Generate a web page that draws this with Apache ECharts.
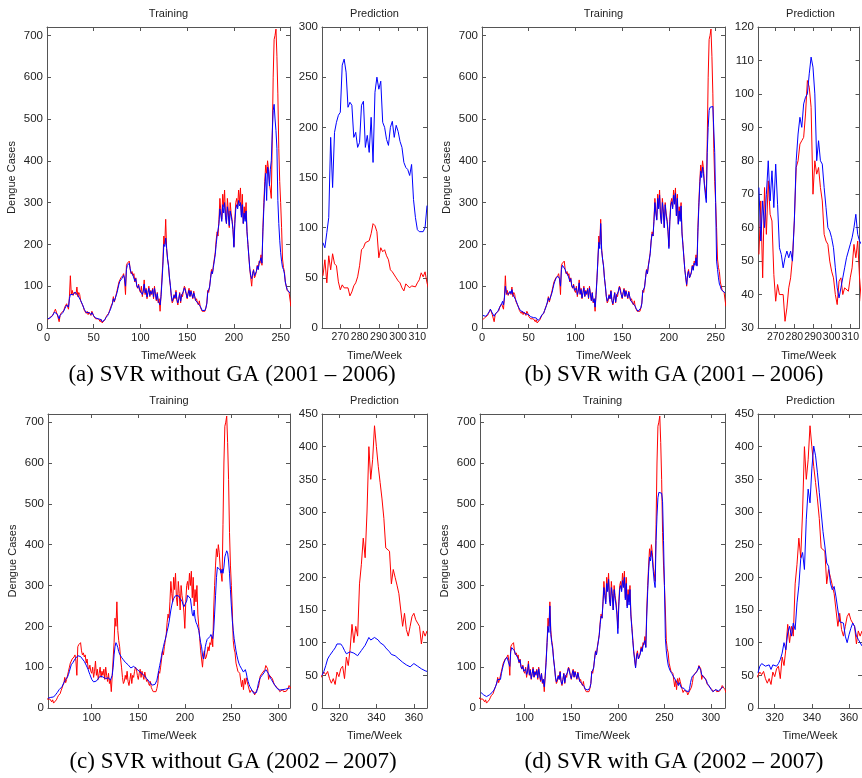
<!DOCTYPE html>
<html>
<head>
    <meta charset="utf-8">
    <title>Dengue SVR</title>
    <style>
        html, body { margin: 0; padding: 0; background: #fff; }
    </style>
</head>
<body>
    <div id="main" style="width: 862px;height:778px;"></div>
    <script src="https://cdn.jsdelivr.net/npm/echarts@6/dist/echarts.min.js"></script>
    <script type="text/javascript">
        // actual weekly dengue cases, week 1 .. 367 (red)
        var actualStart = 1;
        var actual = [
            20, 18, 25, 22, 28, 30, 35, 40, 45, 38,
            32, 28, 15, 30, 35, 33, 38, 42, 50, 48,
            58, 62, 45, 75, 125, 80, 90, 78, 85, 88,
            80, 98, 75, 85, 80, 65, 60, 55, 50, 42,
            38, 35, 40, 32, 38, 35, 30, 40, 35, 28,
            25, 22, 20, 18, 22, 18, 15, 20, 12, 10,
            15, 20, 25, 30, 28, 35, 42, 45, 55, 60,
            75, 62, 70, 68, 90, 100, 110, 115, 120, 118,
            125, 130, 115, 80, 150, 155, 158, 160, 140, 130,
            135, 125, 130, 110, 120, 100, 95, 105, 90, 85,
            100, 75, 90, 115, 80, 95, 70, 85, 100, 75,
            90, 80, 95, 70, 100, 80, 65, 85, 60, 70,
            40, 80, 120, 160, 220, 200, 260, 190, 165, 150,
            120, 100, 75, 60, 65, 80, 70, 90, 65, 55,
            70, 85, 60, 80, 75, 90, 100, 95, 80, 70,
            85, 95, 75, 90, 80, 70, 88, 75, 65, 70,
            60, 55, 65, 50, 45, 40, 38, 42, 40, 48,
            60, 90, 85, 100, 120, 140, 130, 150, 165, 180,
            210, 230, 220, 260, 310, 280, 260, 320, 290, 330,
            270, 250, 310, 280, 240, 300, 275, 260, 235, 195,
            260, 300, 310, 290, 330, 300, 335, 270, 320, 250,
            290, 260, 300, 230, 200, 170, 140, 120, 100, 130,
            140, 120, 125, 135, 150, 140, 160, 155, 175, 150,
            240, 300, 350, 390, 370, 400, 380, 345, 330, 310,
            450, 600, 690, 700, 715, 650, 560, 430, 350, 300,
            240, 165, 145, 135, 110, 100, 90, 88, 85, 82,
            52, 68, 45, 72, 58, 74, 64, 62, 46, 38,
            43, 40, 40, 40, 32, 36, 42, 45, 51, 62,
            78, 80, 85, 86, 87, 94, 104, 102, 96, 70,
            80, 76, 78, 72, 68, 58, 56, 55, 50, 47,
            45, 40, 37, 44, 45, 40, 42, 42, 41, 45,
            48, 55, 51, 56, 45, 38, 45, 36, 55, 48,
            60, 64, 45, 78, 65, 90, 128, 100, 125, 110,
            190, 220, 260, 230, 300, 400, 350, 380, 432, 400,
            370, 345, 320, 290, 245, 242, 240, 190, 212, 200,
            188, 175, 150, 125, 145, 120, 110, 125, 140, 145,
            135, 130, 125, 98, 118, 110, 118
        ];

        // (a) SVR without GA 2001-2006
        var aTrainStart = 1;
        var aTrain = [
            22, 20, 24, 25, 28, 30, 33, 38, 40, 37,
            33, 30, 22, 30, 34, 34, 37, 40, 46, 47,
            55, 58, 50, 70, 80, 78, 82, 80, 84, 86,
            82, 88, 78, 82, 78, 66, 62, 56, 50, 44,
            40, 37, 38, 34, 37, 35, 32, 37, 34, 29,
            26, 24, 22, 20, 22, 20, 18, 20, 15, 14,
            17, 20, 25, 29, 30, 35, 40, 45, 52, 58,
            70, 64, 68, 68, 85, 95, 105, 112, 116, 118,
            122, 126, 118, 100, 140, 150, 152, 155, 142, 132,
            132, 126, 128, 112, 118, 102, 96, 102, 92, 88,
            96, 80, 88, 105, 84, 92, 74, 85, 95, 78,
            88, 82, 92, 74, 95, 82, 68, 82, 64, 68,
            55, 75, 110, 150, 200, 195, 215, 190, 165, 148,
            122, 102, 78, 64, 66, 78, 72, 86, 68, 60,
            70, 82, 64, 78, 76, 88, 96, 92, 82, 72,
            82, 90, 76, 88, 80, 72, 84, 76, 66, 68,
            62, 58, 62, 52, 48, 42, 40, 42, 42, 48,
            58, 85, 85, 98, 118, 135, 130, 145, 160, 175,
            200, 220, 218, 250, 285, 270, 255, 295, 275, 300,
            265, 250, 290, 270, 245, 280, 268, 255, 235, 193,
            250, 285, 295, 285, 305, 292, 300, 265, 295, 250,
            275, 255, 280, 230, 200, 170, 142, 125, 118, 130,
            138, 125, 128, 135, 148, 140, 155, 152, 168, 155,
            230, 285, 335, 370, 305, 385, 375, 340, 380, 400,
            464, 520, 535, 500, 472, 430, 305, 250, 210, 180,
            160, 145, 140, 130, 110, 100, 92, 88, 86, 84
        ];
        var aPredStart = 261;
        var aPred = [
            85, 80, 95, 110, 190, 140, 195, 205, 212,
            215, 262, 268, 255, 220, 225, 222, 190, 195, 180,
            185, 222, 226, 180, 192, 175, 210, 165, 235, 250,
            238, 246, 205, 200, 188, 182, 200, 206, 190, 202,
            196, 186, 180, 165, 160, 158, 152, 163, 128, 110,
            98, 96, 97, 96, 100, 122
        ];

        // (b) SVR with GA 2001-2006
        var bTrainStart = 1;
        var bTrain = [
            30, 28, 26, 28, 30, 33, 36, 40, 45, 42,
            36, 32, 28, 33, 36, 36, 40, 44, 50, 52,
            58, 64, 55, 72, 100, 85, 88, 80, 84, 88,
            82, 92, 80, 84, 78, 68, 62, 56, 50, 46,
            42, 40, 42, 38, 40, 37, 34, 38, 36, 32,
            30, 27, 25, 24, 25, 24, 22, 24, 20, 18,
            20, 23, 27, 31, 32, 36, 42, 46, 54, 58,
            72, 66, 70, 70, 85, 95, 105, 112, 118, 118,
            124, 128, 118, 100, 140, 150, 152, 150, 140, 132,
            134, 126, 128, 112, 118, 102, 96, 102, 90, 86,
            96, 80, 88, 108, 82, 92, 72, 84, 96, 76,
            88, 82, 92, 72, 96, 82, 66, 84, 62, 70,
            50, 78, 115, 165, 205, 190, 250, 185, 165, 148,
            120, 100, 76, 64, 66, 78, 70, 88, 66, 58,
            70, 84, 62, 78, 74, 88, 98, 94, 80, 72,
            84, 92, 76, 88, 80, 72, 86, 76, 66, 70,
            60, 56, 64, 52, 46, 42, 40, 42, 42, 48,
            58, 88, 85, 98, 120, 138, 130, 148, 162, 178,
            208, 225, 220, 255, 300, 275, 258, 310, 285, 318,
            268, 250, 300, 278, 240, 295, 270, 255, 230, 190,
            255, 292, 302, 285, 318, 296, 322, 268, 310, 248,
            280, 255, 292, 225, 198, 168, 140, 120, 104, 128,
            136, 120, 124, 132, 148, 138, 155, 150, 168, 148,
            230, 290, 340, 375, 360, 385, 370, 340, 318, 300,
            420, 480, 520, 528, 528, 530, 530, 528, 420, 300,
            160, 140, 120, 105, 100, 92, 90, 88, 86, 84
        ];
        var bPredStart = 261;
        var bPred = [
            72, 56, 68, 60, 70, 80, 68, 77, 66, 79,
            67, 54, 52, 48, 51, 53, 51, 53, 50, 62,
            80, 88, 93, 90, 97, 99, 100, 106, 111, 108,
            100, 80, 86, 80, 79, 72, 66, 60, 59, 57,
            54, 48, 42, 39, 42, 45, 48, 51, 53, 55,
            57, 60, 64, 58, 56, 55
        ];

        // (c) SVR without GA 2002-2007
        var cTrainStart = 53;
        var cTrain = [
            24, 22, 24, 26, 24, 25, 27, 30,
            32, 35, 38, 42, 45, 46, 48, 52, 56, 62,
            66, 70, 72, 76, 82, 90, 98, 106, 110, 112,
            116, 120, 118, 124, 128, 132, 130, 126, 124, 120,
            116, 114, 110, 105, 100, 95, 88, 82, 76, 70,
            66, 64, 62, 64, 66, 70, 72, 76, 78, 80,
            78, 76, 74, 75, 72, 70, 72, 74, 70, 68,
            72, 80, 100, 130, 150, 160, 155, 148, 138, 132,
            128, 124, 120, 118, 115, 112, 110, 108, 106, 104,
            102, 98, 100, 98, 102, 104, 100, 96, 98, 94,
            90, 86, 88, 84, 82, 80, 78, 76, 72, 70,
            68, 64, 62, 60, 56, 54, 56, 58, 62, 68,
            80, 92, 104, 115, 128, 140, 150, 160, 168, 178,
            188, 198, 210, 225, 240, 252, 262, 268, 272, 275,
            278, 272, 275, 276, 268, 270, 262, 254, 248, 245,
            250, 262, 276, 280, 272, 268, 250, 230, 225, 240,
            220, 210, 205, 198, 190, 175, 160, 150, 130, 120,
            130, 150, 160, 168, 172, 170, 175, 180, 178, 170,
            190, 230, 275, 320, 345, 348, 345, 338, 330, 340,
            330, 345, 370, 378, 385, 380, 360, 330, 290, 250,
            215, 190, 170, 155, 140, 128, 118, 110, 104, 100,
            96, 92, 88, 90, 94, 86, 74, 65, 58, 52,
            48, 44, 40, 36, 34, 33, 38, 48, 60, 68,
            74, 78, 80, 82, 86, 90, 94, 95, 90, 84,
            78, 74, 70, 66, 62, 58, 55, 52, 48, 46,
            45, 44, 43, 44, 45, 45, 44, 46, 48, 47,
            48, 50, 49
        ];
        var cPredStart = 311;
        var cPred = [
            50, 56, 65, 75, 80, 83, 88, 92, 98, 100,
            98, 94, 88, 83, 84, 86, 85, 84, 82, 80,
            84, 88, 92, 96, 95, 108, 104, 106, 108, 110,
            104, 100, 98, 96, 92, 90, 86, 82, 82, 80,
            78, 75, 72, 70, 68, 66, 64, 63, 64, 68,
            65, 64, 62, 60, 58, 57, 56
        ];

        // (d) SVR with GA 2002-2007
        var dTrainStart = 53;
        var dTrain = [
            38, 36, 34, 32, 30, 31, 28, 27,
            30, 32, 34, 36, 38, 40, 44, 48, 54, 58,
            70, 68, 72, 70, 85, 95, 105, 112, 118, 118,
            124, 128, 120, 102, 138, 148, 150, 150, 140, 132,
            134, 126, 128, 112, 118, 102, 96, 102, 90, 86,
            96, 82, 88, 108, 82, 92, 72, 84, 96, 76,
            88, 82, 92, 74, 96, 82, 68, 84, 62, 70,
            52, 78, 112, 160, 200, 185, 250, 180, 160, 145,
            120, 100, 76, 64, 66, 78, 70, 88, 66, 58,
            70, 84, 62, 78, 74, 88, 98, 94, 80, 72,
            84, 92, 76, 88, 80, 72, 86, 76, 66, 70,
            60, 56, 64, 52, 46, 44, 42, 44, 44, 50,
            60, 88, 85, 98, 120, 138, 130, 148, 162, 178,
            205, 225, 220, 255, 295, 275, 255, 305, 285, 315,
            265, 250, 295, 275, 240, 290, 268, 252, 228, 182,
            250, 290, 300, 285, 312, 295, 320, 265, 305, 245,
            278, 252, 290, 225, 195, 165, 138, 118, 98, 125,
            134, 120, 124, 132, 146, 138, 152, 150, 165, 148,
            225, 285, 335, 370, 360, 385, 365, 335, 310, 295,
            410, 470, 515, 528, 530, 530, 526, 505, 410, 300,
            170, 140, 120, 105, 98, 92, 88, 84, 80, 76,
            72, 68, 65, 60, 55, 62, 60, 50, 48, 52,
            48, 45, 42, 40, 38, 40, 48, 62, 72, 78,
            80, 82, 84, 86, 90, 96, 102, 100, 92, 82,
            78, 76, 78, 72, 68, 60, 56, 54, 50, 46,
            44, 40, 38, 42, 45, 42, 42, 42, 41, 44,
            48, 50, 52
        ];
        var dPredStart = 311;
        var dPred = [
            54, 64, 68, 69, 64, 66, 66, 59, 66, 69,
            64, 68, 74, 84, 100, 89, 115, 125, 110, 130,
            120, 161, 187, 228, 238, 212, 289, 335, 314, 366,
            401, 386, 360, 330, 300, 270, 248, 222, 217, 191,
            181, 186, 170, 150, 132, 135, 130, 110, 100, 112,
            122, 130, 125, 110, 105, 100, 95
        ];

        // tick values
        var trainYTicks = [0, 100, 200, 300, 400, 500, 600, 700];
        var abTrainXTicks = [0, 50, 100, 150, 200, 250];
        var cdTrainXTicks = [100, 150, 200, 250, 300];
        var abPredXTicks = [270, 280, 290, 300, 310];
        var cdPredXTicks = [320, 340, 360];
        var aPredYTicks = [0, 50, 100, 150, 200, 250, 300];
        var bPredYTicks = [30, 40, 50, 60, 70, 80, 90, 100, 110, 120];
        var cdPredYTicks = [0, 50, 100, 150, 200, 250, 300, 350, 400, 450];

        var captions = [
            { text: '(a) SVR without GA (2001 \u2013 2006)', x: 232, y: 375 },
            { text: '(b) SVR with GA (2001 \u2013 2006)', x: 674, y: 375 },
            { text: '(c) SVR without GA (2002 \u2013 2007)', x: 233, y: 762 },
            { text: '(d) SVR with GA (2002 \u2013 2007)', x: 674, y: 762 }
        ];

        function pairs(start, values) {
            return values.map(function (v, i) { return [start + i, v]; });
        }

        // layout of the 8 small plots
        var panels = [
            { title: 'Training', left: 47, top: 27, width: 243, height: 301, x: [0, 260], xt: abTrainXTicks, y: [0, 720], yt: trainYTicks, ylab: true, xfs: 11, redFrom: 1, blue: pairs(aTrainStart, aTrain) },
            { title: 'Prediction', left: 322, top: 27, width: 105, height: 301, x: [260.5, 315], xt: abPredXTicks, y: [0, 300], yt: aPredYTicks, ylab: false, xfs: 10.5, redFrom: 261, blue: pairs(aPredStart, aPred) },
            { title: 'Training', left: 482, top: 27, width: 243, height: 301, x: [0, 260], xt: abTrainXTicks, y: [0, 720], yt: trainYTicks, ylab: true, xfs: 11, redFrom: 1, blue: pairs(bTrainStart, bTrain) },
            { title: 'Prediction', left: 758, top: 27, width: 105, height: 301, x: [260.5, 315], xt: abPredXTicks, y: [30, 120], yt: bPredYTicks, ylab: false, xfs: 10.5, redFrom: 261, blue: pairs(bPredStart, bPred) },
            { title: 'Training', left: 48, top: 414, width: 242, height: 294, x: [53, 313], xt: cdTrainXTicks, y: [0, 720], yt: trainYTicks, ylab: true, xfs: 11, redFrom: 1, blue: pairs(cTrainStart, cTrain) },
            { title: 'Prediction', left: 322, top: 414, width: 105, height: 294, x: [311, 367], xt: cdPredXTicks, y: [0, 450], yt: cdPredYTicks, ylab: false, xfs: 11, redFrom: 1, blue: pairs(cPredStart, cPred) },
            { title: 'Training', left: 480, top: 414, width: 245, height: 294, x: [52, 315], xt: cdTrainXTicks, y: [0, 720], yt: trainYTicks, ylab: true, xfs: 11, redFrom: 1, blue: pairs(dTrainStart, dTrain) },
            { title: 'Prediction', left: 758, top: 414, width: 105, height: 294, x: [311, 367], xt: cdPredXTicks, y: [0, 450], yt: cdPredYTicks, ylab: false, xfs: 11, redFrom: 1, blue: pairs(dPredStart, dPred) }
        ];

        var frameColor = '#555';
        var textColor = '#222';
        var sans = '"Liberation Sans", Arial, sans-serif';
        var actualData = pairs(actualStart, actual);

        var grids = [], xAxes = [], yAxes = [], series = [], graphics = [];

        panels.forEach(function (p, i) {
            grids.push({ left: p.left, top: p.top, width: p.width, height: p.height, containLabel: false });

            var line = { show: true, onZero: false, lineStyle: { color: frameColor, width: 1 } };
            // bottom + top x axis (MATLAB style box with inward ticks)
            xAxes.push({
                type: 'value', gridIndex: i, position: 'bottom', min: p.x[0], max: p.x[1],
                axisLine: line,
                axisTick: { inside: true, length: 4, customValues: p.xt, lineStyle: { color: frameColor } },
                axisLabel: { customValues: p.xt, color: textColor, fontSize: p.xfs, fontFamily: sans, margin: 4 },
                splitLine: { show: false },
                name: 'Time/Week', nameLocation: 'middle', nameGap: 22,
                nameTextStyle: { color: textColor, fontSize: 11, fontFamily: sans }
            });
            xAxes.push({
                type: 'value', gridIndex: i, position: 'top', min: p.x[0], max: p.x[1],
                axisLine: line,
                axisTick: { inside: true, length: 4, customValues: p.xt, lineStyle: { color: frameColor } },
                axisLabel: { show: false },
                splitLine: { show: false }
            });
            yAxes.push({
                type: 'value', gridIndex: i, position: 'left', min: p.y[0], max: p.y[1],
                axisLine: line,
                axisTick: { inside: true, length: 4, customValues: p.yt, lineStyle: { color: frameColor } },
                axisLabel: { customValues: p.yt, color: textColor, fontSize: 11.5, fontFamily: sans, margin: 4 },
                splitLine: { show: false },
                name: p.ylab ? 'Dengue Cases' : '', nameLocation: 'middle', nameGap: 30,
                nameTextStyle: { color: textColor, fontSize: 11, fontFamily: sans }
            });
            yAxes.push({
                type: 'value', gridIndex: i, position: 'right', min: p.y[0], max: p.y[1],
                axisLine: line,
                axisTick: { inside: true, length: 4, customValues: p.yt, lineStyle: { color: frameColor } },
                axisLabel: { show: false },
                splitLine: { show: false }
            });

            series.push({
                type: 'line', xAxisIndex: 2 * i, yAxisIndex: 2 * i,
                data: actualData.filter(function (d) { return d[0] >= p.redFrom; }),
                showSymbol: false, symbol: 'none', clip: true,
                lineStyle: { color: '#ff0000', width: 1 }, itemStyle: { color: '#ff0000' }
            });
            series.push({
                type: 'line', xAxisIndex: 2 * i, yAxisIndex: 2 * i, data: p.blue,
                showSymbol: false, symbol: 'none', clip: true,
                lineStyle: { color: '#0000ff', width: 1 }, itemStyle: { color: '#0000ff' }
            });

            // panel title
            graphics.push({
                type: 'text', x: p.left + p.width / 2, y: p.top - 13,
                style: { text: p.title, fill: textColor, font: '11px ' + sans, align: 'center', verticalAlign: 'middle' }
            });
        });

        captions.forEach(function (c) {
            graphics.push({
                type: 'text', x: c.x, y: c.y,
                style: { text: c.text, fill: '#000', font: '23px "Liberation Serif", "Times New Roman", serif', align: 'center', verticalAlign: 'middle' }
            });
        });

        var myChart = echarts.init(document.getElementById('main'));
        myChart.setOption({
            animation: false,
            backgroundColor: '#fff',
            grid: grids,
            xAxis: xAxes,
            yAxis: yAxes,
            series: series,
            graphic: graphics
        });
    </script>
</body>
</html>
